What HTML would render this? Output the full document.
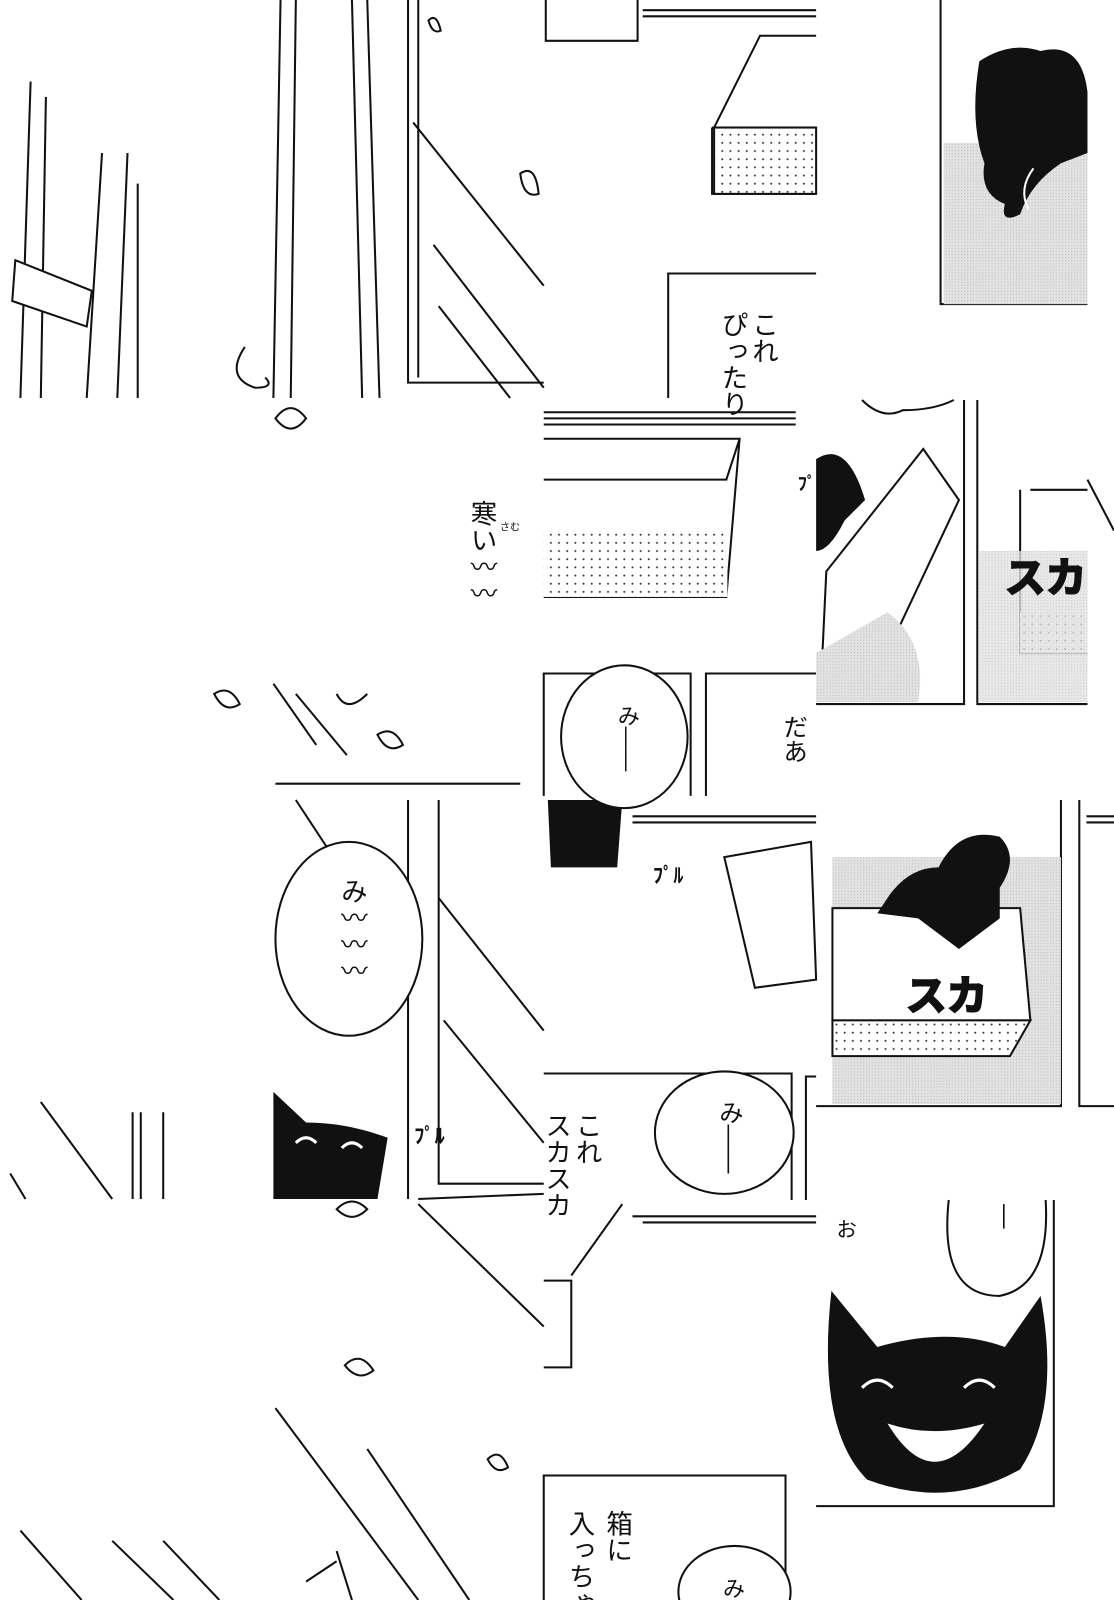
<!DOCTYPE html>
<html><head><meta charset="utf-8"><style>
html,body{margin:0;padding:0;background:#fff;width:1114px;height:1600px;overflow:hidden}
svg{display:block}
text{font-family:"Liberation Sans","Noto Sans CJK JP",sans-serif;fill:#111}
.v{writing-mode:vertical-rl}
</style></head><body>
<svg width="1114" height="1600" viewBox="0 0 1092 1568" preserveAspectRatio="none">
<defs>
<pattern id="dots" width="8" height="8" patternUnits="userSpaceOnUse"><rect width="8" height="8" fill="#fff"/><circle cx="4" cy="4" r="1" fill="#333"/></pattern>
<pattern id="tone" width="3" height="3" patternUnits="userSpaceOnUse"><rect width="3" height="3" fill="#e2e2e2"/><rect width="1" height="1" fill="#bbb"/></pattern>
</defs>
<rect width="1092" height="1568" fill="#fff"/>
<g fill="none" stroke="#111" stroke-width="2">
<path d="M30 80 L20 390 M45 95 L40 390 M100 150 L85 390 M125 150 L115 390 M135 180 L135 390"/>
<path d="M15 255 L90 285 L85 320 L12 295 Z" fill="#fff"/>
<path d="M275 0 L268 390 M290 0 L285 390 M345 0 L355 390 M360 0 L372 390"/>
<path d="M400 0 V375 H533 M410 0 V370"/>
<path d="M405 120 L533 280 M425 240 L533 380 M430 300 L500 390"/>
<path d="M240 340 q-20 30 10 40 q20 0 10 -10"/>
<path d="M535 0 V40 H625 V0"/>
<path d="M630 10 H800 M630 16 H800"/>
<path d="M700 125 L745 35 H800 M698 125 V190 H800 M698 125 H800"/>
<path d="M655 390 V268 H800"/>
<path d="M922 0 V298 H1066"/>
<path d="M270 768 H510"/>
<path d="M268 670 L310 730 M290 680 L340 740 M330 680 q10 20 30 0"/>
<path d="M533 404 H780 M533 410 H780 M533 416 H780"/>
<path d="M533 430 H725 L712 585 H533 M725 430 L712 470 H533"/>
<path d="M533 780 V660 H677 V780 M692 780 V660 H800"/>
<path d="M945 392 V690 H800 M958 392 V690 H1066"/>
<path d="M1010 480 H1066 M1000 480 V640 H1066 M1066 470 L1092 520"/>
<path d="M810 560 L905 440 L940 490 L860 660 L805 665 Z"/>
<path d="M400 784 V1175 M430 784 V1160 H533"/>
<path d="M290 784 L340 860 M430 880 L533 1010 M435 1000 L533 1120 M410 1175 L533 1170"/>
<path d="M40 1080 L110 1175 M10 1150 L25 1175 M130 1090 V1175 M138 1090 V1175 M160 1090 V1175"/>
<path d="M620 800 H800 M620 806 H800"/>
<path d="M710 840 L795 825 L800 960 L740 968 Z"/>
<path d="M533 1052 H776 V1176 M790 1176 V1055 H800"/>
<path d="M1040 784 V1084 H800 M1058 784 V1084 H1092 M1065 800 H1092 M1065 806 H1092"/>
<path d="M270 1380 L410 1568 M360 1420 L460 1568 M410 1180 L533 1300"/>
<path d="M20 1500 L80 1568 M110 1510 L170 1568 M160 1510 L215 1568"/>
<path d="M330 1520 L345 1568 M300 1550 L330 1530"/>
<path d="M533 1568 V1446 H770 V1568"/>
<path d="M620 1192 H800 M630 1198 H800"/>
<path d="M610 1180 L560 1250 M533 1255 H560 V1340 H533"/>
<path d="M1033 1176 V1476 H800"/>
</g>
<rect x="700" y="125" width="100" height="65" fill="url(#dots)" stroke="#111" stroke-width="2"/>
<rect x="533" y="520" width="180" height="65" fill="url(#dots)"/>
<rect x="1000" y="600" width="66" height="40" fill="url(#dots)"/>
<path d="M925 140 L1066 140 V298 H925 Z" fill="url(#tone)"/>
<path d="M960 540 L1066 540 V688 H960 Z" fill="url(#tone)" opacity=".8"/>
<path d="M870 600 q40 30 30 88 H800 V640 Z" fill="url(#tone)"/>
<path d="M816 840 L1040 840 V1082 H816 Z" fill="url(#tone)"/>
<path d="M816 890 L1000 890 L1010 1000 H816 Z" fill="#fff" stroke="#111" stroke-width="2"/>
<path d="M816 1000 H1010 L990 1035 H816 Z" fill="url(#dots)" stroke="#111" stroke-width="2"/>
<text x="888" y="990" font-size="40" font-weight="bold" fill="#fff" stroke="#111" stroke-width="2">スカ</text>
<text x="985" y="580" font-size="40" font-weight="bold" fill="#fff" stroke="#111" stroke-width="2">スカ</text>
<path d="M960 60 q30 -20 60 -10 q40 -10 46 40 V150 L1040 160 Q1010 180 1000 210 Q980 220 985 200 Q960 190 965 160 Q950 120 960 60Z" fill="#111"/>
<path d="M1008 205 q-10 -20 5 -40" stroke="#fff" stroke-width="2" fill="none"/>
<path d="M800 450 q30 -20 48 40 l-20 20 q-15 30 -28 30 Z" fill="#111"/>
<path d="M870 880 q20 -30 50 -30 q20 -40 60 -30 q20 20 0 50 L980 900 L940 930 L900 900 L860 895Z" fill="#111"/>
<path d="M537 784 H610 L605 850 H540 Z" fill="#111"/>
<path d="M268 1070 L300 1100 Q340 1100 380 1115 L370 1175 H268 Z" fill="#111"/>
<path d="M815 1265 L860 1320 Q930 1300 985 1320 L1020 1270 Q1040 1380 1000 1440 Q930 1480 850 1450 Q800 1400 815 1265Z" fill="#111"/>
<path d="M870 1395 Q915 1470 965 1395 Q915 1410 870 1395Z" fill="#fff"/>
<path d="M845 1360 q15 -15 30 0 M945 1360 q15 -15 30 0" stroke="#fff" stroke-width="3" fill="none"/>
<path d="M290 1120 q10 -10 20 0 M335 1125 q10 -10 20 0" stroke="#fff" stroke-width="3" fill="none"/>
<g fill="#fff" stroke="#111" stroke-width="2">
<ellipse cx="342" cy="920" rx="72" ry="95"/>
<ellipse cx="612" cy="722" rx="62" ry="70"/>
<ellipse cx="710" cy="1110" rx="68" ry="60"/>
<path d="M930 1176 Q920 1270 980 1270 Q1030 1260 1025 1176"/>
<ellipse cx="720" cy="1560" rx="55" ry="45"/>
<path d="M845 392 q20 20 40 10 q30 0 50 -10"/>
</g>
<g fill="#fff" stroke="#111" stroke-width="2">
<path d="M270 410 q15 -20 30 0 q-15 20 -30 0z"/><path d="M210 680 q15 -10 25 10 q-15 10 -25 -10z"/>
<path d="M370 720 q15 -10 25 10 q-15 10 -25 -10z"/><path d="M510 170 q15 -10 18 20 q-15 5 -18 -20z"/>
<path d="M338 1338 q15 -15 28 5 q-15 12 -28 -5z"/><path d="M330 1185 q15 -15 30 0 q-15 15 -30 0z"/>
<path d="M478 1430 q12 -12 20 8 q-12 8 -20 -8z"/><path d="M420 20 q8 -8 12 10 q-8 4 -12 -10z"/>
</g>
<text class="v" x="748" y="305" font-size="26">これ</text>
<text class="v" x="718" y="305" font-size="26">ぴったり</text>
<text class="v" x="472" y="490" font-size="26">寒い〰〰</text>
<text x="490" y="520" font-size="10">さむ</text>
<text class="v" x="615" y="690" font-size="22">み――</text>
<text class="v" x="778" y="700" font-size="24">だあ</text>
<text x="782" y="480" font-size="18" font-weight="bold">ﾌﾟﾙ</text>
<text x="640" y="865" font-size="20" font-weight="bold">ﾌﾟﾙ</text>
<text x="406" y="1120" font-size="20" font-weight="bold">ﾌﾟﾙ</text>
<text class="v" x="345" y="860" font-size="26">み〰〰〰</text>
<text class="v" x="575" y="1090" font-size="26">これ</text>
<text class="v" x="545" y="1090" font-size="26">スカスカ</text>
<text class="v" x="715" y="1078" font-size="24">み――</text>
<text class="v" x="985" y="1180" font-size="24">―</text>
<text x="820" y="1212" font-size="20">お</text>
<text class="v" x="605" y="1480" font-size="26">箱に</text>
<text class="v" x="568" y="1480" font-size="26">入っちゃ</text>
<text class="v" x="718" y="1545" font-size="22">み</text>
</svg>
</body></html>
